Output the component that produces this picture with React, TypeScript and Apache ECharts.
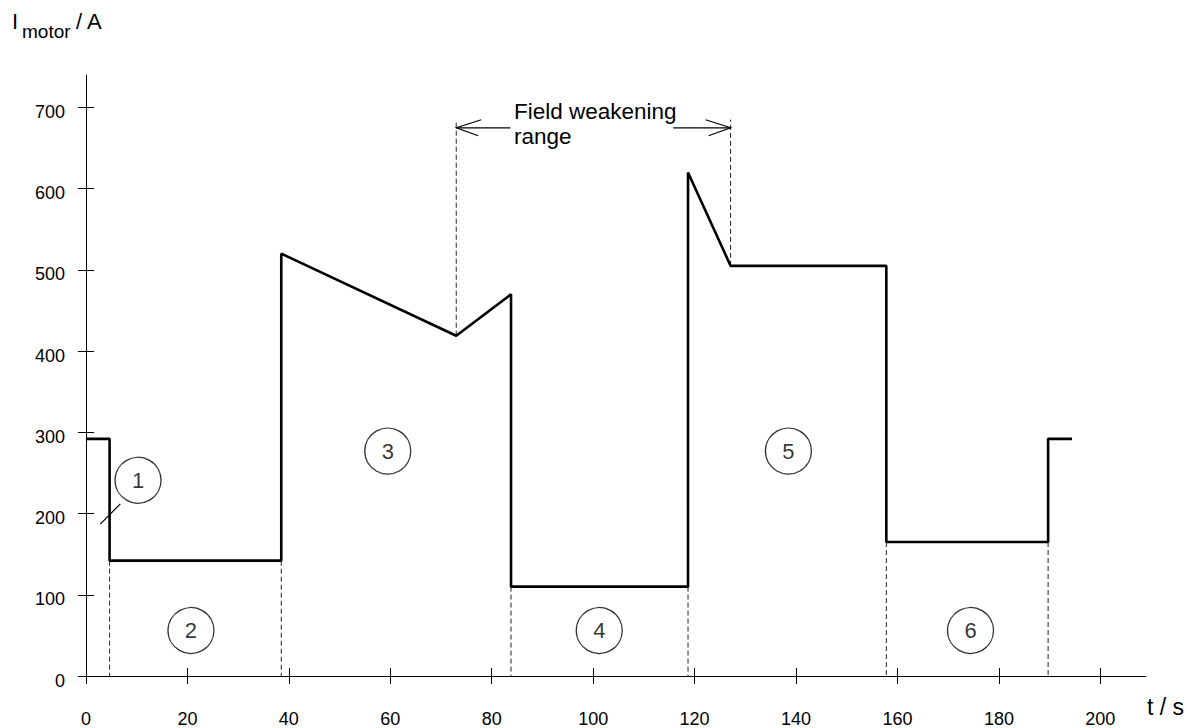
import React, { useEffect, useRef } from "react";
import * as echarts from "echarts";

// time (s) / motor current (A) of the duty cycle
const currentProfile: [number, number][] = [
  [0, 292], [4.65, 292], [4.65, 142], [38.5, 142], [38.5, 520], [73, 419],
  [83.8, 470], [83.8, 110], [118.7, 110], [118.7, 620], [127.1, 505],
  [157.8, 505], [157.8, 165], [189.7, 165], [189.7, 292], [194.4, 292],
];

// dashed guide lines: [t, from, to]
const dashedGuides: [number, number, number][] = [
  [4.65, 142, 0], [38.5, 142, 0], [73, 419, 685], [83.8, 110, 0],
  [118.7, 110, 0], [127.1, 505, 685], [157.8, 165, 0], [189.7, 165, 0],
];

// phase markers: [t, current, label]
const phaseMarkers: [number, number, string][] = [
  [10.26, 241, "1"], [20.7, 56, "2"], [59.5, 277, "3"],
  [101.2, 56, "4"], [138.5, 277, "5"], [174.4, 56, "6"],
];

const leaderLine: [number, number][] = [[2.82, 187], [6.77, 212]];

// field weakening arrows: [tip t, tail t, level]
const rangeArrows: [number, number, number][] = [
  [73, 83.7, 675], [127.1, 115.8, 675],
];

const xTicks = [0, 20, 40, 60, 80, 100, 120, 140, 160, 180, 200];
const yTicks = [0, 100, 200, 300, 400, 500, 600, 700];

const FONT = "'Liberation Sans', Arial, Helvetica, sans-serif";

export default function App() {
  const ref = useRef<HTMLDivElement>(null);
  useEffect(() => {
    document.body.style.margin = "0";
    if (!ref.current) return;
    const chart = echarts.init(ref.current, null, { renderer: "svg" });

    const axisCommon = {
      axisLine: { show: true, lineStyle: { color: "#000", width: 1 } },
      splitLine: { show: false },
    };

    const option: any = {
      animation: false,
      backgroundColor: "#fff",
      textStyle: { fontFamily: FONT, color: "#000" },
      grid: { left: 86, right: 41, top: 75, bottom: 48, containLabel: false },
      xAxis: [
        {
          type: "value",
          min: 0,
          max: 209,
          interval: 20,
          ...axisCommon,
          axisTick: { show: true, length: 8, customValues: xTicks, lineStyle: { color: "#000" } },
          axisLabel: { customValues: xTicks, fontSize: 18, color: "#000", margin: 34, fontFamily: FONT },
        },
        {
          type: "value",
          min: 0,
          max: 209,
          interval: 20,
          position: "bottom",
          axisLine: { show: false },
          splitLine: { show: false },
          axisTick: { show: true, inside: true, length: 8, customValues: xTicks, lineStyle: { color: "#000" } },
          axisLabel: { show: false },
        },
      ],
      yAxis: [
        {
          type: "value",
          min: 0,
          max: 740,
          interval: 100,
          ...axisCommon,
          axisTick: { show: true, length: 8, customValues: yTicks, lineStyle: { color: "#000" } },
          axisLabel: {
            customValues: yTicks,
            fontSize: 18,
            color: "#000",
            margin: 21,
            verticalAlign: "top",
            lineHeight: 9,
            fontFamily: FONT,
          },
        },
        {
          type: "value",
          min: 0,
          max: 740,
          interval: 100,
          position: "left",
          axisLine: { show: false },
          splitLine: { show: false },
          axisTick: { show: true, inside: true, length: 8, customValues: yTicks, lineStyle: { color: "#000" } },
          axisLabel: { show: false },
        },
      ],
      graphic: [
        { type: "text", left: 12, top: 10, style: { text: "I", font: `22px ${FONT}`, fill: "#000" } },
        { type: "text", left: 22, top: 22, style: { text: "motor", font: `19px ${FONT}`, fill: "#000" } },
        { type: "text", left: 76, top: 10, style: { text: "/ A", font: `22px ${FONT}`, fill: "#000" } },
        { type: "text", left: 1147, top: 695, style: { text: "t / s", font: `23px ${FONT}`, fill: "#000" } },
        { type: "text", left: 514, top: 100, style: { text: "Field weakening", font: `22.5px ${FONT}`, fill: "#000" } },
        { type: "text", left: 514, top: 125, style: { text: "range", font: `22.5px ${FONT}`, fill: "#000" } },
      ],
      series: [
        ...dashedGuides.map((g) => ({
          type: "line",
          data: [[g[0], g[1]], [g[0], g[2]]],
          symbol: "none",
          silent: true,
          lineStyle: { color: "#222", width: 1, type: [5, 3] },
          z: 1,
        })),
        {
          type: "line",
          data: leaderLine,
          symbol: "none",
          silent: true,
          lineStyle: { color: "#000", width: 1.2 },
          z: 2,
        },
        {
          type: "custom",
          data: rangeArrows,
          encode: { x: [0, 1], y: 2 },
          silent: true,
          z: 2,
          renderItem: (params: any, api: any) => {
            const tip = api.coord([api.value(0), api.value(2)]);
            const tail = api.coord([api.value(1), api.value(2)]);
            const dir = tail[0] > tip[0] ? 1 : -1;
            return {
              type: "group",
              children: [
                { type: "line", shape: { x1: tip[0], y1: tip[1], x2: tail[0], y2: tail[1] }, style: { stroke: "#000", lineWidth: 1.2 } },
                {
                  type: "polyline",
                  shape: { points: [[tip[0] + dir * 25, tip[1] - 8], [tip[0], tip[1]], [tip[0] + dir * 22, tip[1] + 8]] },
                  style: { stroke: "#000", lineWidth: 1.2, fill: "none" },
                },
              ],
            };
          },
        },
        {
          type: "line",
          data: currentProfile,
          symbol: "none",
          silent: true,
          lineStyle: { color: "#000", width: 2.6 },
          z: 3,
        },
        {
          type: "scatter",
          data: phaseMarkers,
          symbol: "circle",
          symbolSize: 46,
          silent: true,
          itemStyle: { color: "#fff", borderColor: "#000", borderWidth: 1.3 },
          label: {
            show: true,
            position: "inside",
            formatter: (p: any) => p.value[2],
            fontSize: 22,
            color: "#000",
            fontFamily: FONT,
          },
          z: 4,
        },
      ],
    };
    chart.setOption(option);
    return () => chart.dispose();
  }, []);
  return <div ref={ref} style={{ position: "absolute", left: 0, top: 0, width: 1187, height: 728 }} />;
}
